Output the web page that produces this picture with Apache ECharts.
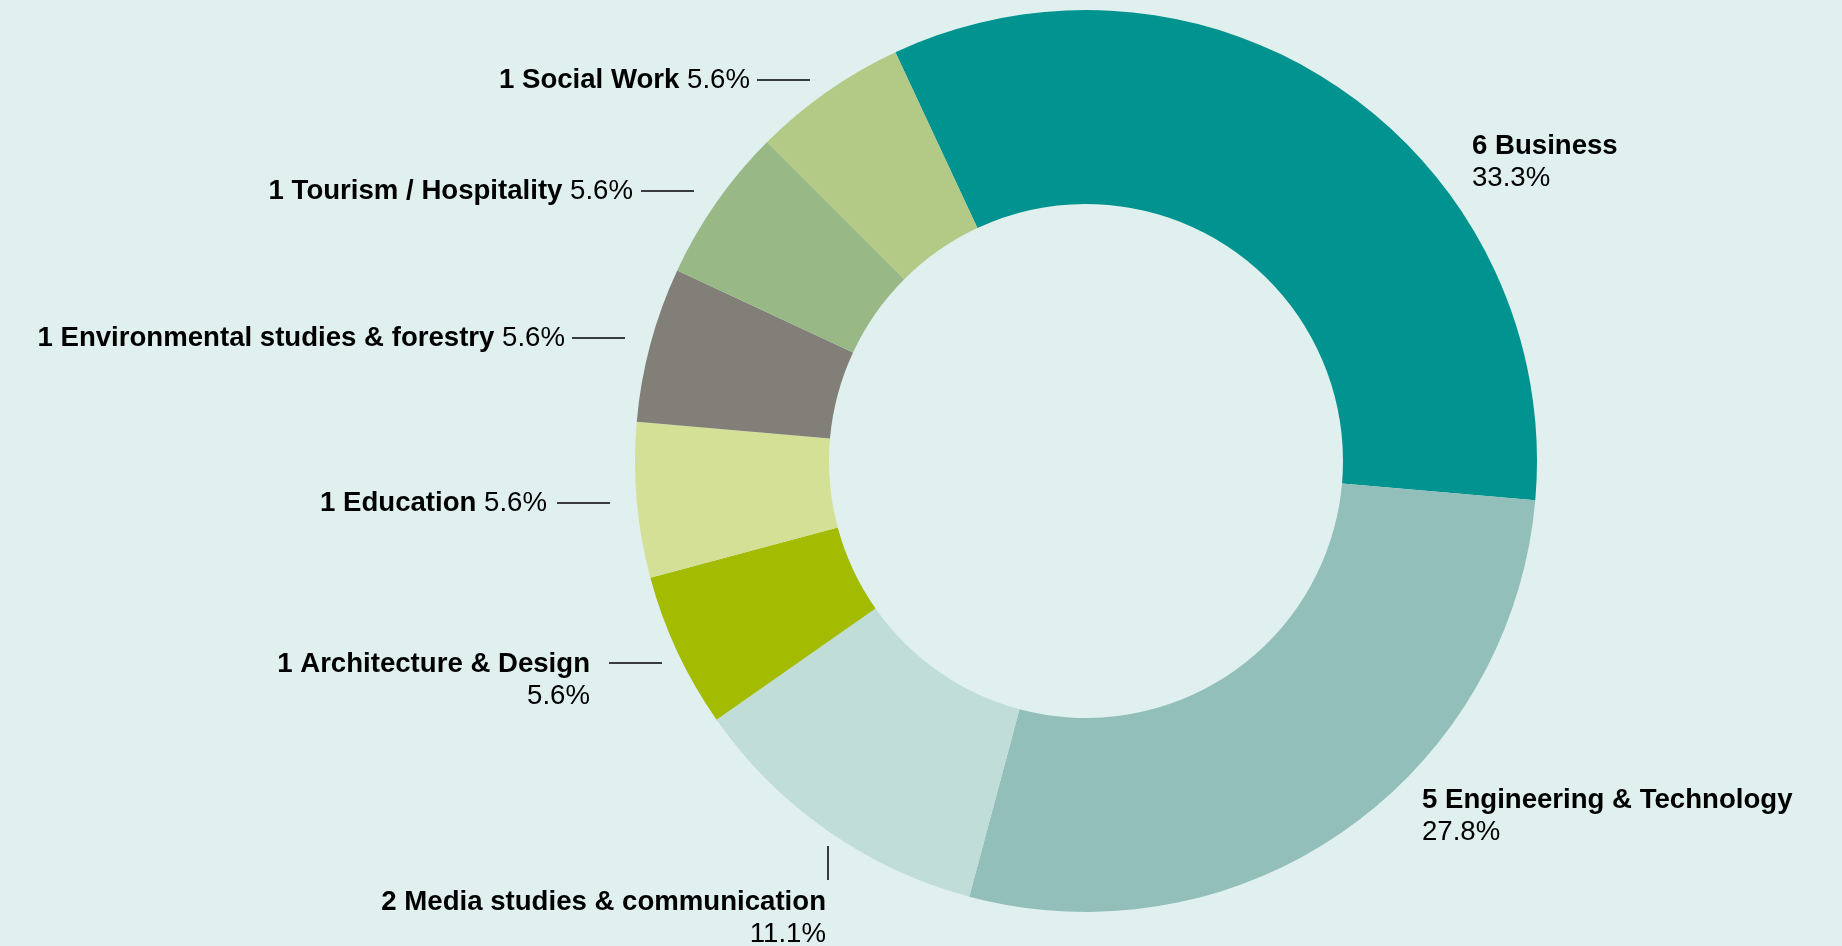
<!DOCTYPE html>
<html>
<head>
<meta charset="utf-8">
<script src="https://cdn.jsdelivr.net/npm/echarts@6/dist/echarts.min.js"></script>
<style>
  html, body { margin: 0; padding: 0; background: #dff0ee; }
  #chart { width: 1842px; height: 946px; }
</style>
</head>
<body>
<div id="chart"></div>
<script>
  // data
  const categories = [
    "Business",
    "Engineering & Technology",
    "Media studies & communication",
    "Architecture & Design",
    "Education",
    "Environmental studies & forestry",
    "Tourism / Hospitality",
    "Social Work"
  ];
  const counts = [6, 5, 2, 1, 1, 1, 1, 1];
  const colors = ["#00938f", "#93bfbb", "#c0ddd8", "#a3bb00", "#d5e097", "#827f79", "#98b886", "#b2ca86"];

  // label placement (pixels) - where each label sits and its short leader line
  const labelSpots = [
    { x: 1472, y: 162, align: "left", wrap: true },
    { x: 1422, y: 816, align: "left", wrap: true },
    { x: 826, y: 918.5, align: "right", wrap: true, line: [[828, 846], [828, 880]] },
    { x: 590, y: 680, align: "right", wrap: true, line: [[609, 663], [662, 663]] },
    { x: 547, y: 503, align: "right", line: [[557, 503], [610, 503]] },
    { x: 565, y: 338, align: "right", line: [[572, 338], [625, 338]] },
    { x: 633, y: 191, align: "right", line: [[641, 191], [694, 191]] },
    { x: 750, y: 80, align: "right", line: [[757, 80], [810, 80]] }
  ];

  const total = counts.reduce((a, b) => a + b, 0);
  const font = "'Liberation Sans', Arial, Helvetica, sans-serif";
  const fs = 27.6;

  const chart = echarts.init(document.getElementById("chart"));

  const option = {
    backgroundColor: "#dff0ee",
    animation: false,
    series: [
      {
        type: "pie",
        center: [1086, 461],
        radius: [257, 451],
        startAngle: 115,
        clockwise: true,
        avoidLabelOverlap: false,
        silent: true,
        label: {
          show: true,
          position: "outside",
          overflow: "none",
          fontFamily: font,
          fontSize: fs,
          color: "#000",
          formatter: function (p) {
            const pct = (p.value / total * 100).toFixed(1) + "%";
            const name = "{b|" + p.value + " " + p.name + "}";
            return labelSpots[p.dataIndex].wrap ? name + "\n{p|" + pct + "}" : name + "{p| " + pct + "}";
          },
          rich: {
            b: { fontFamily: font, fontSize: fs, fontWeight: "bold", color: "#000", lineHeight: 32 },
            p: { fontFamily: font, fontSize: fs, fontWeight: "normal", color: "#000", lineHeight: 32 }
          }
        },
        labelLine: {
          show: true,
          lineStyle: { color: "#000", width: 1.5 }
        },
        labelLayout: function (params) {
          const s = labelSpots[params.dataIndex];
          const out = { x: s.x, y: s.y, align: s.align, verticalAlign: "middle" };
          if (s.line) {
            out.labelLinePoints = [s.line[0], s.line[0], s.line[1]];
          }
          return out;
        },
        data: categories.map((name, i) => ({
          name: name,
          value: counts[i],
          itemStyle: { color: colors[i] },
          labelLine: { show: !!labelSpots[i].line }
        }))
      }
    ]
  };

  chart.setOption(option);

  window.addEventListener("resize", () => {
    chart.resize();
  });
</script>
</body>
</html>
